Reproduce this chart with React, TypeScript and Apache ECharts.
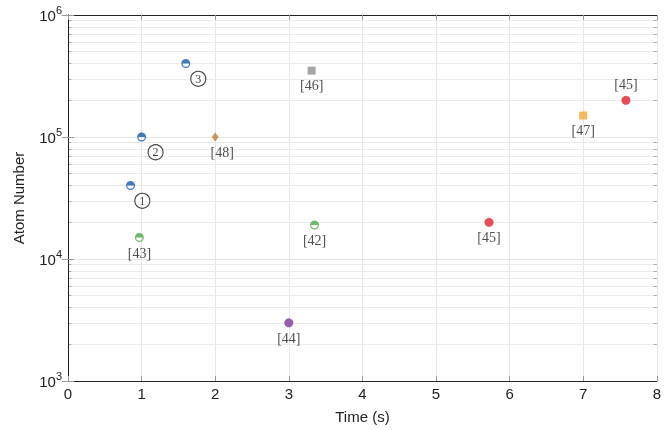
import React, { useEffect, useRef } from "react";
import * as echarts from "echarts";

// ---- data ----
const blueHalf: number[][] = [[0.85, 4e4], [1.0, 1e5], [1.6, 4e5]];
const greenHalf: number[][] = [[0.97, 1.5e4], [3.35, 1.9e4]];
const greenLabels = ["[43]", "[42]"];
const purplePts: number[][] = [[3.0, 3e3]];
const purpleLabels = ["[44]"];
const redPts: number[][] = [[5.72, 2e4], [7.58, 2e5]];
const redLabels = ["[45]", "[45]"];
const redLabelPos = ["bottom", "top"];
const orangePts: number[][] = [[7.0, 1.5e5]];
const orangeLabels = ["[47]"];
const grayPts: number[][] = [[3.31, 3.5e5]];
const grayLabels = ["[46]"];
const brownPts: number[][] = [[2.0, 1e5]];
const brownLabels = ["[48]"];
const circledPts: number[][] = [[1.01, 3e4], [1.19, 7.5e4], [1.77, 3e5]];
const circledLabels = ["1", "2", "3"];

const decades = [1e3, 1e4, 1e5];
const mantissas = [2, 3, 4, 5, 6, 7, 8, 9];

const HALF =
  "path://M0,5A5,5,0,0,1,10,5Z M0,5A5,5,0,0,0,10,5L8.6,5A3.6,3.6,0,0,1,1.4,5Z";

const serif = "Liberation Serif";
const sans = "Liberation Sans";
const TXT = "#222";

export default function App() {
  const ref = useRef<HTMLDivElement>(null);
  useEffect(() => {
    if (!ref.current) return;
    const chart = echarts.init(ref.current, undefined, { renderer: "svg" });
    const minorVals: number[] = [];
    decades.forEach((d) => mantissas.forEach((m) => minorVals.push(m * d)));

    const labelStyle = (pos: string, offset?: number[]) => ({
      show: true,
      position: pos,
      distance: 4,
      offset: offset || [0, 0],
      fontFamily: serif,
      fontSize: 14,
      color: TXT,
    });

    const withLabels = (pts: number[][], labels: string[], pos: string[] | string, offset?: number[]) =>
      pts.map((p, i) => ({
        value: p,
        label: labelStyle(Array.isArray(pos) ? pos[i] : pos, offset),
        labelText: labels[i],
      }));

    const seriesLabel = {
      show: true,
      fontFamily: serif,
      fontSize: 14,
      color: TXT,
      formatter: (p: any) => p.data.labelText,
    };

    const scatterBase = { type: "scatter", z: 5, zlevel: 0, emphasis: { disabled: true } };

    const option: any = {
      animation: false,
      grid: { left: 68, right: -1, top: 15, bottom: 49, containLabel: false },
      xAxis: [
        {
          type: "value",
          min: 0,
          max: 8,
          interval: 1,
          name: "Time (s)",
          nameLocation: "middle",
          nameGap: 28,
          nameTextStyle: { fontFamily: sans, fontSize: 15, color: TXT },
          axisLine: { show: true, lineStyle: { color: TXT, width: 1 } },
          axisTick: { show: true, inside: true, length: 5, lineStyle: { color: "#999" } },
          axisLabel: { fontFamily: sans, fontSize: 15, color: TXT, margin: 5 },
          splitLine: { show: true, lineStyle: { color: "#e6e6e6", width: 1 } },
        },
        {
          type: "value",
          position: "top",
          min: 0,
          max: 8,
          interval: 1,
          axisLine: { show: true, lineStyle: { color: TXT, width: 1 } },
          axisTick: { show: true, inside: true, length: 5, lineStyle: { color: "#999" } },
          axisLabel: { show: false },
          splitLine: { show: false },
        },
      ],
      yAxis: [
        {
          type: "log",
          logBase: 10,
          min: 1e3,
          max: 1e6,
          splitNumber: 3,
          name: "Atom Number",
          nameLocation: "middle",
          nameGap: 42,
          nameTextStyle: { fontFamily: sans, fontSize: 15, color: TXT },
          axisLine: { show: true, lineStyle: { color: TXT, width: 1 } },
          axisTick: { show: true, inside: true, length: 6, lineStyle: { color: "#999" } },
          axisLabel: {
            margin: 6,
            formatter: (v: number) => "{b|10}{s|" + Math.round(Math.log10(v)) + "}",
            rich: {
              b: { fontFamily: sans, fontSize: 15, color: TXT },
              s: { fontFamily: sans, fontSize: 11, color: TXT, padding: [0, 0, 10, 0] },
            },
          },
          splitLine: { show: true, lineStyle: { color: "#e6e6e6", width: 1 } },
        },
        {
          type: "log",
          logBase: 10,
          min: 1e3,
          max: 1e6,
          splitNumber: 3,
          position: "right",
          axisLine: { show: true, lineStyle: { color: TXT, width: 1 } },
          axisTick: { show: true, inside: true, length: 6, lineStyle: { color: "#999" } },
          axisLabel: { show: false },
          splitLine: { show: false },
        },
      ],
      series: [
        {
          type: "line",
          data: [],
          z: 0,
          silent: true,
          markLine: {
            silent: true,
            z: 0,
            symbol: "none",
            label: { show: false },
            emphasis: { disabled: true },
            animation: false,
            data: [
              ...minorVals.map((v) => ({ yAxis: v, lineStyle: { color: "#ebebeb", width: 1, type: "solid" } })),
              ...minorVals.map((v) => [
                { coord: [0, v], lineStyle: { color: "#aaa", width: 1, type: "solid" } },
                { coord: [0.045, v] },
              ]),
              ...minorVals.map((v) => [
                { coord: [7.955, v], lineStyle: { color: "#aaa", width: 1, type: "solid" } },
                { coord: [8, v] },
              ]),
            ],
          },
        },
        {
          ...scatterBase,
          symbol: HALF,
          symbolSize: 9,
          itemStyle: { color: "#1858a8" },
          data: blueHalf,
        },
        {
          ...scatterBase,
          symbol: HALF,
          symbolSize: 9,
          itemStyle: { color: "#4fa84a" },
          label: seriesLabel,
          data: withLabels(greenHalf, greenLabels, "bottom"),
        },
        {
          ...scatterBase,
          symbol: "circle",
          symbolSize: 9,
          itemStyle: { color: "#7b3a96" },
          label: seriesLabel,
          data: withLabels(purplePts, purpleLabels, "bottom"),
        },
        {
          ...scatterBase,
          symbol: "circle",
          symbolSize: 9,
          itemStyle: { color: "#e21f2d" },
          label: seriesLabel,
          data: withLabels(redPts, redLabels, redLabelPos),
        },
        {
          ...scatterBase,
          symbol: "rect",
          symbolSize: 8,
          itemStyle: { color: "#f5a836" },
          label: seriesLabel,
          data: withLabels(orangePts, orangeLabels, "bottom"),
        },
        {
          ...scatterBase,
          symbol: "rect",
          symbolSize: 8,
          itemStyle: { color: "#8e8e8e" },
          label: seriesLabel,
          data: withLabels(grayPts, grayLabels, "bottom"),
        },
        {
          ...scatterBase,
          symbol: "diamond",
          symbolSize: [7, 9],
          itemStyle: { color: "#c27c33" },
          label: seriesLabel,
          data: withLabels(brownPts, brownLabels, "bottom", [7, 0]),
        },
        {
          ...scatterBase,
          symbol: "circle",
          symbolSize: 15,
          itemStyle: { color: "#fff", borderColor: "#111", borderWidth: 1.1 },
          label: {
            show: true,
            position: "inside",
            fontFamily: serif,
            fontSize: 12,
            color: "#111",
            formatter: (p: any) => circledLabels[p.dataIndex],
          },
          data: circledPts,
        },
      ],
    };
    chart.setOption(option);
    return () => chart.dispose();
  }, []);
  return (
    <div
      ref={ref}
      style={{ position: "fixed", left: 0, top: 0, width: 664, height: 430 }}
    />
  );
}
